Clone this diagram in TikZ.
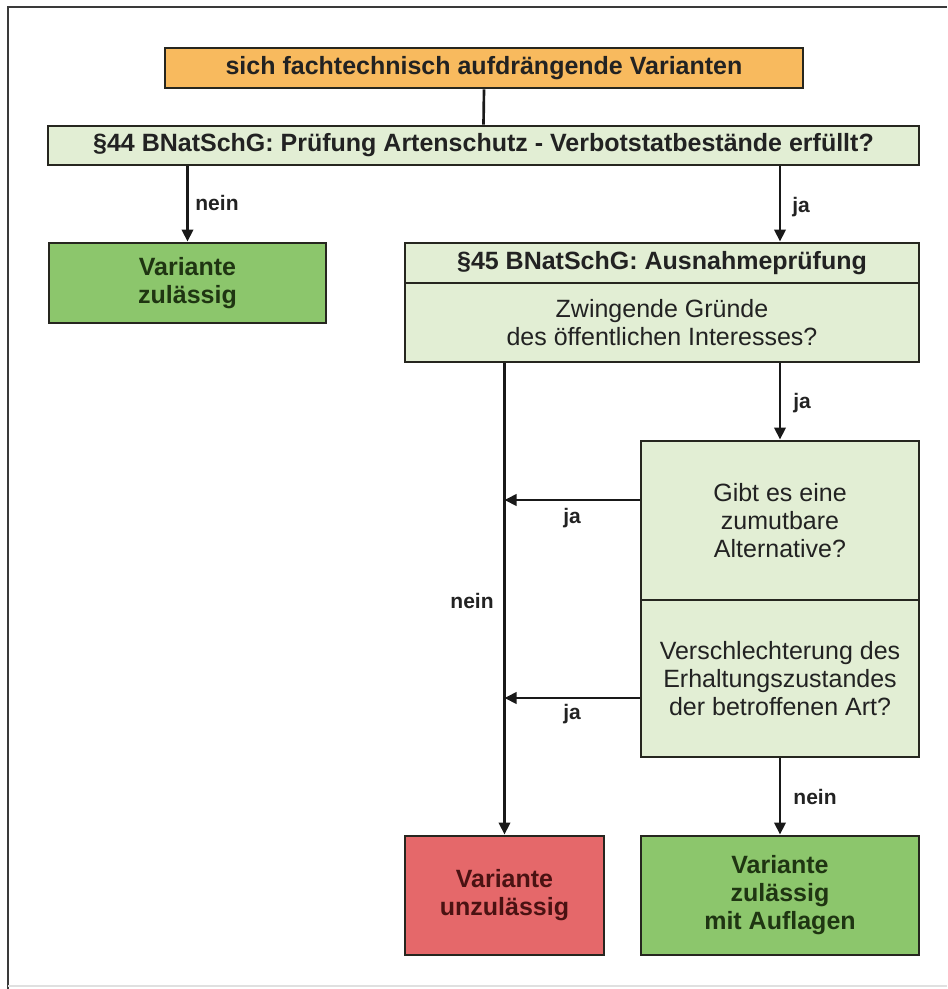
\documentclass[tikz,border=0pt]{standalone}
\usepackage{fontspec}
\setmainfont{Liberation Sans}
\usetikzlibrary{arrows.meta}
\definecolor{orangebox}{HTML}{F8BA5E}
\definecolor{palegreen}{HTML}{E2EED4}
\definecolor{greenbox}{HTML}{8CC66C}
\definecolor{redbox}{HTML}{E5686A}
\definecolor{boxline}{HTML}{26261F}
\definecolor{darkgreentext}{HTML}{1F3512}
\definecolor{darkredtext}{HTML}{4A1212}
\definecolor{darktext}{HTML}{222222}
\definecolor{framecol}{HTML}{3A3A3A}
\begin{document}
\begin{tikzpicture}[x=0.75pt,y=-0.75pt,
  box/.style={draw=boxline, line width=2.2pt, inner sep=0pt, align=center,
    text=darktext, font=\fontsize{18.75}{21}\selectfont},
  boldbox/.style={box, font=\fontsize{18.75}{21}\selectfont\bfseries},
  arr/.style={draw=black!90, line width=2pt, -{Triangle[length=9pt,width=8.5pt]}},
  conn/.style={draw=black!90, line width=2pt},
  lbl/.style={font=\fontsize{15.75}{18}\selectfont\bfseries, text=darktext, inner sep=0pt},
  framestyle/.style={draw=framecol, line width=2.2pt}
]
\useasboundingbox (0,0) rectangle (947,989);
% outer frame
\draw[framestyle] (8,989) -- (8,7) -- (947,7);
\draw[draw=black!12, line width=1.5pt] (8,986) -- (947,986);

% boxes
\node[boldbox, fill=orangebox, minimum width={638*0.75pt}, minimum height={40*0.75pt}] (top) at (484,68) {sich fachtechnisch aufdrängende Varianten};
\node[boldbox, fill=palegreen, minimum width={871*0.75pt}, minimum height={39*0.75pt}] (s44) at (483.5,145.5) {§44 BNatSchG: Prüfung Artenschutz - Verbotstatbestände erfüllt?};
\node[boldbox, fill=greenbox, text=darkgreentext, minimum width={277*0.75pt}, minimum height={80*0.75pt}] (zul) at (187.5,283) {Variante\\zulässig};
\node[boldbox, fill=palegreen, minimum width={514*0.75pt}, minimum height={40*0.75pt}] (hdr45) at (662,263) {§45 BNatSchG: Ausnahmeprüfung};
\node[box, fill=palegreen, minimum width={514*0.75pt}, minimum height={79*0.75pt}] (body45) at (662,322.5) {Zwingende Gründe\\des öffentlichen Interesses?};
\node[box, fill=palegreen, minimum width={278*0.75pt}, minimum height={159*0.75pt}] (gibt) at (780,520.5) {Gibt es eine\\zumutbare\\Alternative?};
\node[box, fill=palegreen, minimum width={278*0.75pt}, minimum height={157*0.75pt}] (vers) at (780,678.5) {Verschlechterung des\\Erhaltungszustandes\\der betroffenen Art?};
\node[boldbox, fill=redbox, text=darkredtext, minimum width={199*0.75pt}, minimum height={119*0.75pt}] (unz) at (504.5,895.5) {Variante\\unzulässig};
\node[boldbox, fill=greenbox, text=darkgreentext, minimum width={278*0.75pt}, minimum height={119*0.75pt}] (auf) at (780,895.5) {Variante\\zulässig\\mit Auflagen};

% connectors
\draw[conn] (top.south) -- (s44.north);
\draw[arr] (s44.south -| zul.north) -- (zul.north);
\draw[arr] (s44.south -| gibt.north) -- (hdr45.north -| gibt.north);
\draw[arr] (body45.south -| gibt.north) -- (gibt.north);
\draw[arr] (body45.south -| unz.north) -- (unz.north);
\coordinate (g1) at ([yshift=15.375pt]gibt.west);
\coordinate (v1) at ([yshift=-14.625pt]vers.west);
\draw[arr] (g1) -- (g1 -| unz.north);
\draw[arr] (v1) -- (v1 -| unz.north);
\draw[arr] (vers.south) -- (auf.north);

% labels
\node[lbl] (lnein1) at (217,203) {nein};
\node[lbl] (lja1) at (801,207) {ja};
\node[lbl] (lja2) at (802,403) {ja};
\node[lbl] (lja3) at (572,518) {ja};
\node[lbl] (lja4) at (572,714) {ja};
\node[lbl] (lnein2) at (472,601) {nein};
\node[lbl] (lnein3) at (815,797) {nein};
\end{tikzpicture}
\end{document}
